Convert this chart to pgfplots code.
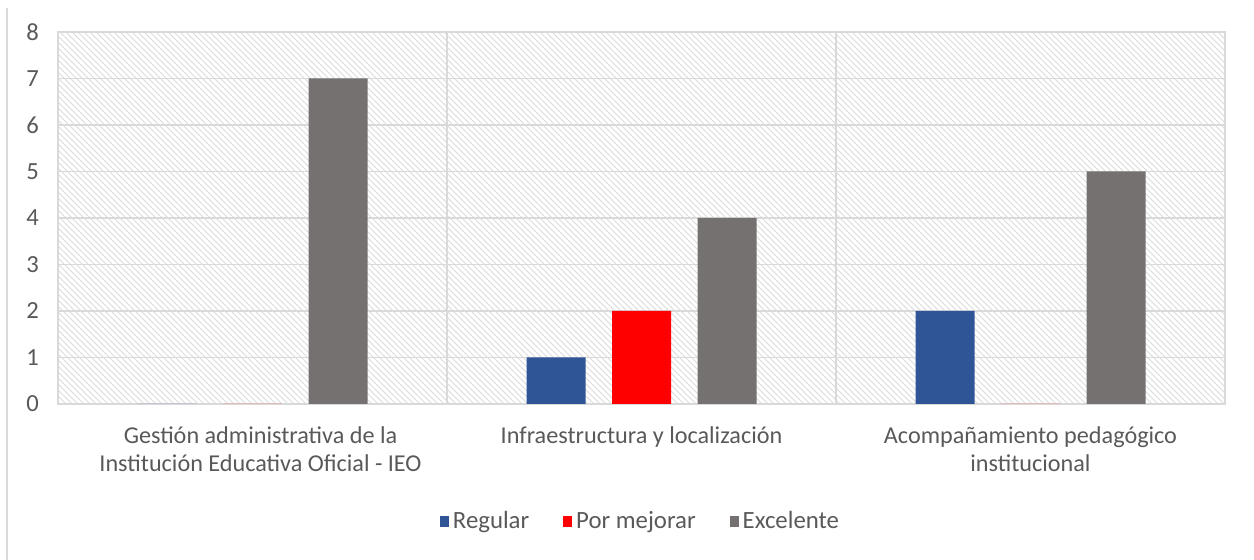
\documentclass[border=0pt]{standalone}
\usepackage{fontspec}
\setmainfont{Carlito}
\usepackage{pgfplots}
\pgfplotsset{compat=1.18}
\usetikzlibrary{patterns}
\definecolor{cblue}{HTML}{2F5597}
\definecolor{cred}{HTML}{FF0000}
\definecolor{cgray}{HTML}{767171}
\definecolor{gridc}{HTML}{D9D9D9}
\definecolor{txt}{HTML}{595959}
\begin{document}
\begin{tikzpicture}
\useasboundingbox (0,0) rectangle (627pt,280pt);
\draw[gridc, line width=0.6pt] (3.5pt,0) -- (3.5pt,276pt);
\begin{axis}[
  at={(29pt,78pt)}, anchor=south west,
  scale only axis, width=583.5pt, height=186pt,
  xmin=-0.5, xmax=2.5, ymin=0, ymax=8,
  ybar=13.25pt, bar width=29.5pt,
  axis background/.style={pattern=north west lines, pattern color=black!14},
  axis line style={gridc, line width=0.75pt},
  ytick={0,1,...,8}, xtick={0,1,2},
  xticklabels={{\hspace*{8pt}Gestión administrativa de la\\\hspace*{8pt}Institución Educativa Oficial - IEO},{Infraestructura y localización},{Acompañamiento pedagógico\\institucional}},
  xticklabel style={align=center, text=txt, font=\fontsize{12.1}{14}\selectfont, yshift=-8pt},
  yticklabel style={text=txt, font=\fontsize{12.3}{14}\selectfont, xshift=-6pt},
  /pgf/number format/assume math mode=true,
  major tick length=0pt,
  ymajorgrids, major grid style={gridc, line width=0.75pt},
  minor xtick={0.5,1.5}, xminorgrids, minor grid style={gridc, line width=0.75pt}, minor tick length=0pt,
  legend style={at={(0.5,-0.315)}, anchor=center, draw=none, fill=none,
    legend columns=-1, font=\fontsize{12.4}{14}\selectfont, text=txt,
    /tikz/every even column/.append style={column sep=15pt}},
  legend image code/.code={\fill[#1] (0pt,-2.8pt) rectangle (4.5pt,2.8pt);},
  legend cell align=left,
]
\addplot[fill=cblue, draw=none] coordinates {(0,0) (1,1) (2,2)};
\addplot[fill=cred, draw=none] coordinates {(0,0) (1,2) (2,0)};
\addplot[fill=cgray, draw=none] coordinates {(0,7) (1,4) (2,5)};
\legend{Regular, Por mejorar, Excelente}
\end{axis}
\end{tikzpicture}
\end{document}
